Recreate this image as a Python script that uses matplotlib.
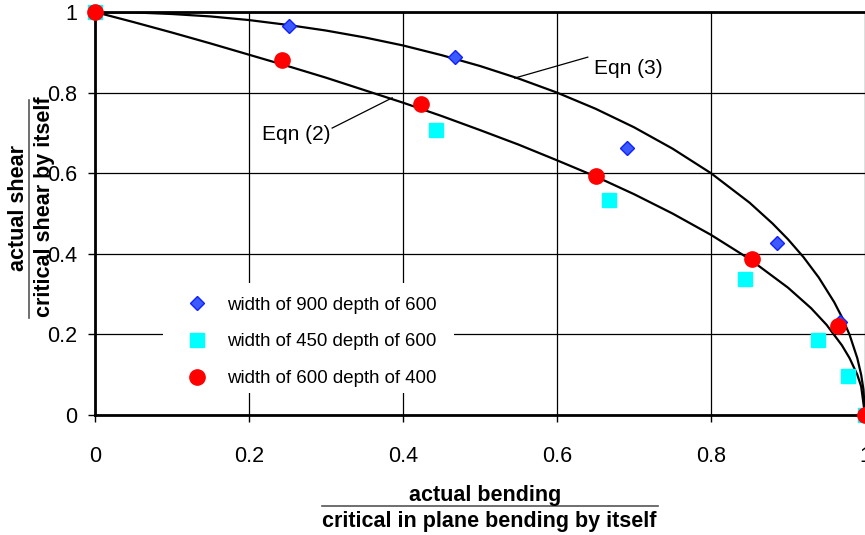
import matplotlib
matplotlib.use("Agg")
import matplotlib.pyplot as plt
from matplotlib.lines import Line2D
from matplotlib.patches import Rectangle

plt.rcParams['font.family'] = ['Liberation Sans', 'DejaVu Sans']

# data
d900_x = [0.0, 0.252, 0.468, 0.691, 0.886, 0.968, 1.0]
d900_y = [1.0, 0.965, 0.888, 0.663, 0.427, 0.231, 0.0]
s450_x = [0.0, 0.443, 0.668, 0.844, 0.939, 0.978, 1.0]
s450_y = [1.0, 0.707, 0.533, 0.337, 0.186, 0.097, 0.0]
c600_x = [0.0, 0.243, 0.423, 0.651, 0.853, 0.965, 1.0]
c600_y = [1.0, 0.881, 0.772, 0.593, 0.387, 0.221, 0.0]

eqn2_x = [0.0, 0.05, 0.1, 0.15, 0.2, 0.25, 0.3, 0.35, 0.4, 0.45, 0.5, 0.55, 0.6, 0.65, 0.7,
          0.75, 0.8, 0.85, 0.9, 0.93, 0.95, 0.97, 0.98, 0.99, 0.995, 1.0]
eqn2_y = [1.0, 0.975, 0.949, 0.922, 0.894, 0.866, 0.837, 0.806, 0.775, 0.742, 0.707, 0.671, 0.632,
          0.592, 0.548, 0.5, 0.447, 0.387, 0.316, 0.265, 0.224, 0.173, 0.141, 0.1, 0.071, 0.0]
eqn3_x = [0.0, 0.05, 0.1, 0.15, 0.2, 0.25, 0.3, 0.35, 0.4, 0.45, 0.5, 0.55, 0.6, 0.65, 0.7,
          0.75, 0.8, 0.85, 0.88, 0.9, 0.92, 0.94, 0.96, 0.97, 0.98, 0.99, 0.995, 0.998, 1.0]
eqn3_y = [1.0, 0.999, 0.995, 0.989, 0.98, 0.968, 0.954, 0.937, 0.917, 0.893, 0.866, 0.835, 0.8,
          0.76, 0.714, 0.661, 0.6, 0.527, 0.475, 0.436, 0.392, 0.341, 0.28, 0.243, 0.199, 0.141,
          0.1, 0.063, 0.0]

ticks = [0, 0.2, 0.4, 0.6, 0.8, 1]
tick_labels = ['0', '0.2', '0.4', '0.6', '0.8', '1']
series_labels = ['width of 900 depth of 600', 'width of 450 depth of 600', 'width of 600 depth of 400']

W, H = 865, 535
fig = plt.figure(figsize=(W / 100, H / 100), dpi=100)
ax = fig.add_axes([95 / W, (H - 415) / H, (865 - 95) / W, (415 - 12) / H])
ax.set_xlim(0, 1)
ax.set_ylim(0, 1)

ax.set_xticks(ticks)
ax.set_xticklabels(tick_labels)
ax.set_yticks(ticks)
ax.set_yticklabels(tick_labels)
ax.tick_params(axis='both', direction='out', length=5, width=1, labelsize=15.5, color='black')
ax.tick_params(axis='x', pad=17)
ax.tick_params(axis='y', pad=8)
ax.grid(True, color='black', linewidth=0.9)
ax.set_axisbelow(True)
for s in ['left', 'bottom', 'top']:
    ax.spines[s].set_linewidth(2)
ax.spines['right'].set_visible(False)

ax.plot(eqn2_x, eqn2_y, color='black', lw=1.6, zorder=3, solid_joinstyle='round')
ax.plot(eqn3_x, eqn3_y, color='black', lw=1.6, zorder=3, solid_joinstyle='round')

ax.plot(d900_x, d900_y, 'D', ms=7.5, mfc='#3b5bff', mec='#1020ff', mew=1, ls='none', zorder=4, clip_on=False)
ax.plot(s450_x, s450_y, 's', ms=10.5, mfc='#00ffff', mec='#00ffff', ls='none', zorder=5, clip_on=False)
ax.plot(c600_x, c600_y, 'o', ms=11, mfc='#ff0000', mec='#ff0000', ls='none', zorder=6, clip_on=False)

# annotations
ax.text(0.648, 0.861, 'Eqn (3)', fontsize=15, va='center', ha='left', zorder=7)
ax.plot([0.640, 0.545], [0.888, 0.836], color='black', lw=0.9, zorder=7)
ax.text(0.217, 0.695, 'Eqn (2)', fontsize=15, va='center', ha='left', zorder=7)
ax.plot([0.308, 0.386], [0.712, 0.787], color='black', lw=0.9, zorder=7)

# legend background (white box hiding grid lines)
ax.add_patch(Rectangle(((163 - 95) / 770, (415 - 393) / 403), (454 - 163) / 770, (393 - 283) / 403,
                       transform=ax.transAxes, facecolor='white', edgecolor='none', zorder=2.5))

handles = [
    Line2D([], [], marker='D', ms=7.5, mfc='#3b5bff', mec='#1020ff', ls='none'),
    Line2D([], [], marker='s', ms=10.5, mfc='#00ffff', mec='#00ffff', ls='none'),
    Line2D([], [], marker='o', ms=11, mfc='#ff0000', mec='#ff0000', ls='none'),
]
leg = ax.legend(handles, series_labels, loc='upper left', bbox_to_anchor=(0.1083, 0.294),
                frameon=False, fontsize=13.4, handletextpad=0.6, labelspacing=1.06,
                borderpad=0, borderaxespad=0, handlelength=2.0)
leg.set_zorder(8)

# y axis label (fraction)
fig.text(19 / W, 1 - 208 / H, 'actual shear', rotation=90, fontsize=15.5, fontweight='bold',
         ha='center', va='center')
fig.text(45 / W, 1 - 207 / H, 'critical shear by itself', rotation=90, fontsize=15.5, fontweight='bold',
         ha='center', va='center')
fig.add_artist(Line2D([29 / W, 29 / W], [1 - 100 / H, 1 - 318 / H], color='#555555', lw=1.2))

# x axis label (fraction)
fig.text(485 / W, 1 - 495 / H, 'actual bending', fontsize=15.5, fontweight='bold', ha='center', va='center')
fig.text(489 / W, 1 - 521 / H, 'critical in plane bending by itself', fontsize=15.5, fontweight='bold',
         ha='center', va='center')
fig.add_artist(Line2D([322 / W, 658 / W], [1 - 506 / H, 1 - 506 / H], color='#555555', lw=1.2))

fig.savefig('out.png', dpi=100)
